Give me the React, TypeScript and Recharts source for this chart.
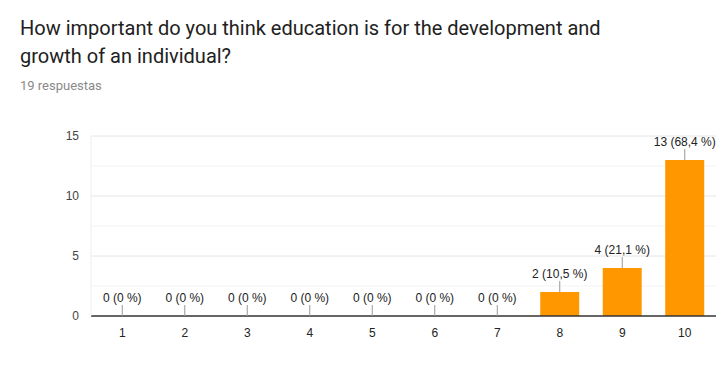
import React from "react";
import { ComposedChart, Bar, Line, XAxis, YAxis, CartesianGrid, LabelList } from "recharts";

const categories = ["1", "2", "3", "4", "5", "6", "7", "8", "9", "10"];
const counts = [0, 0, 0, 0, 0, 0, 0, 2, 4, 13];
const labels = ["0 (0 %)", "0 (0 %)", "0 (0 %)", "0 (0 %)", "0 (0 %)", "0 (0 %)", "0 (0 %)", "2 (10,5 %)", "4 (21,1 %)", "13 (68,4 %)"];
const yTicks = [0, 5, 10, 15];
const majorGrid = [5, 10, 15];
const minorGrid = [2.5, 7.5, 12.5];

const data = categories.map((c, i) => ({ cat: c, value: counts[i], label: labels[i] }));

const BarLabel = (props: any) => {
  const { x, y, value } = props;
  const cx = x;
  return (
    <g>
      <line x1={cx} x2={cx} y1={y} y2={y - 11} stroke="#999" strokeWidth={1} />
      <text x={cx} y={y - 18} textAnchor="middle" dominantBaseline="central" fontSize={12} fill="#222" fontFamily="Arial, 'Liberation Sans', sans-serif">
        {value}
      </text>
    </g>
  );
};

export default function App() {
  return (
    <div style={{ position: "absolute", left: 0, top: 0, width: 726, height: 373, background: "#fff", fontFamily: "Roboto, sans-serif" }}>
      <div style={{ position: "absolute", left: 20, top: 14, fontSize: 20, lineHeight: "28px", color: "#212121", width: 620 }}>
        How important do you think education is for the development and<br />growth of an individual?
      </div>
      <div style={{ position: "absolute", left: 20, top: 78, fontSize: 13, color: "#8a8a8a" }}>19 respuestas</div>
      <div style={{ position: "absolute", left: 0, top: 0 }}>
        <ComposedChart width={726} height={373} data={data} margin={{ top: 136, right: 10, left: 0, bottom: 27 }} barCategoryGap="18.75%">
          <CartesianGrid vertical={false} horizontalValues={minorGrid} stroke="#f3f3f3" />
          <CartesianGrid vertical={false} horizontalValues={majorGrid} stroke="#e6e6e6" />
          <XAxis dataKey="cat" tickLine={false} axisLine={{ stroke: "#333", strokeWidth: 1.5 }} height={30} tick={{ fontSize: 12, fill: "#222", fontFamily: "Arial, 'Liberation Sans', sans-serif" }} tickMargin={6} />
          <YAxis width={91} domain={[0, 15]} ticks={yTicks} tickLine={false} axisLine={{ stroke: "#eeeeee" }} tick={{ fontSize: 12, fill: "#444", fontFamily: "Arial, 'Liberation Sans', sans-serif" }} tickMargin={6} />
          <Bar dataKey="value" fill="#ff9800" isAnimationActive={false} />
          <Line dataKey="value" stroke="none" dot={false} activeDot={false} isAnimationActive={false}>
            <LabelList dataKey="label" content={<BarLabel />} />
          </Line>
        </ComposedChart>
      </div>
    </div>
  );
}
